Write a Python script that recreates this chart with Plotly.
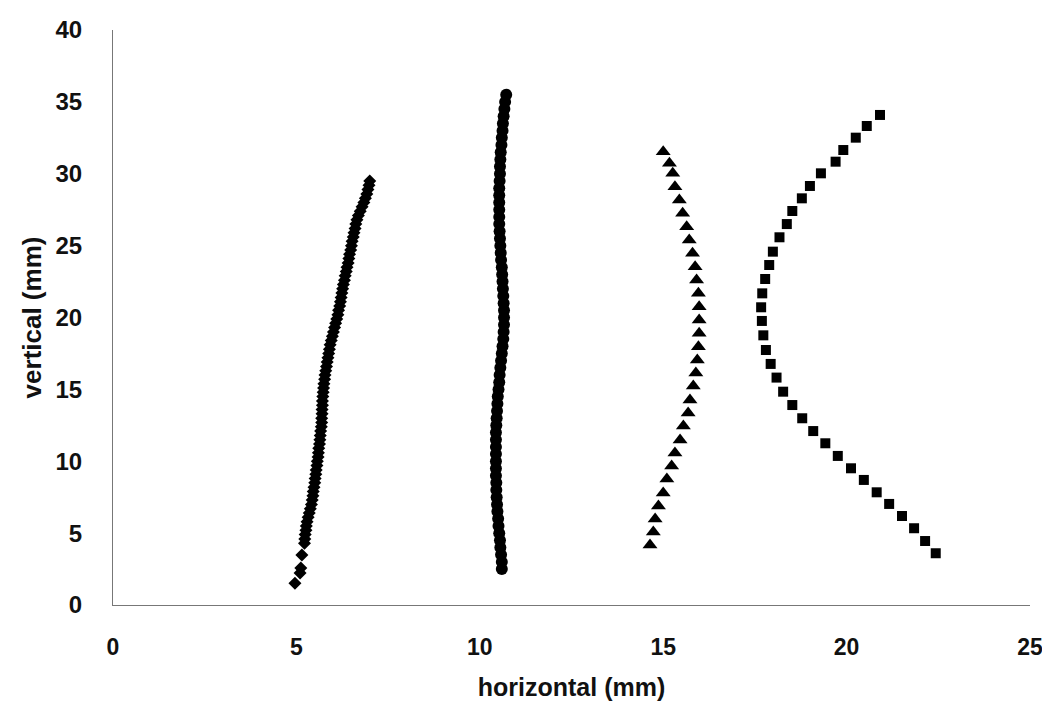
import plotly.graph_objects as go

# Series 1: diamonds
diam_x = [4.96, 5.10, 5.12, 5.15,
          5.22, 5.23, 5.24, 5.26, 5.27, 5.29, 5.32, 5.35, 5.38, 5.41, 5.43, 5.45, 5.46, 5.48, 5.50, 5.51,
          5.53, 5.54, 5.56, 5.57, 5.59, 5.60, 5.61, 5.63, 5.64, 5.65, 5.66, 5.68, 5.69, 5.69, 5.70, 5.70,
          5.71, 5.71, 5.72, 5.73, 5.74, 5.75, 5.77, 5.78, 5.80, 5.82, 5.84, 5.86, 5.88, 5.90, 5.92, 5.95,
          5.98, 6.01, 6.04, 6.07, 6.10, 6.13, 6.15, 6.18, 6.20, 6.22, 6.24, 6.26, 6.28, 6.31, 6.33, 6.36,
          6.38, 6.41, 6.43, 6.45, 6.48, 6.50, 6.52, 6.55, 6.57, 6.60, 6.62, 6.65, 6.69, 6.74, 6.79, 6.84,
          6.88, 6.92, 6.95, 6.98, 7.00]
diam_y = [1.52, 2.23, 2.57, 3.48,
          4.3, 4.6, 4.9, 5.2, 5.5, 5.8, 6.1, 6.4, 6.7, 7.0, 7.3, 7.6, 7.9, 8.2, 8.5, 8.8,
          9.1, 9.4, 9.7, 10.0, 10.3, 10.6, 10.9, 11.2, 11.5, 11.8, 12.1, 12.4, 12.7, 13.0, 13.3, 13.6,
          13.9, 14.2, 14.5, 14.8, 15.1, 15.4, 15.7, 16.0, 16.3, 16.6, 16.9, 17.2, 17.5, 17.8, 18.1, 18.4,
          18.7, 19.0, 19.3, 19.6, 19.9, 20.2, 20.5, 20.8, 21.1, 21.4, 21.7, 22.0, 22.3, 22.6, 22.9, 23.2,
          23.5, 23.8, 24.1, 24.4, 24.7, 25.0, 25.3, 25.6, 25.9, 26.2, 26.5, 26.8, 27.1, 27.4, 27.7, 28.0,
          28.3, 28.6, 28.9, 29.2, 29.5]

# Series 2: circles
circ_x = [10.60, 10.60, 10.58, 10.56, 10.55, 10.53, 10.51, 10.50, 10.48, 10.47, 10.46, 10.45, 10.45,
          10.44, 10.44, 10.44, 10.44, 10.44, 10.44, 10.44, 10.45, 10.46, 10.47, 10.48, 10.49, 10.51,
          10.53, 10.54, 10.56, 10.58, 10.60, 10.62, 10.64, 10.65, 10.66, 10.66, 10.66, 10.65, 10.64,
          10.63, 10.62, 10.61, 10.60, 10.58, 10.57, 10.56, 10.55, 10.54, 10.53, 10.53, 10.53, 10.53,
          10.53, 10.53, 10.54, 10.55, 10.55, 10.56, 10.57, 10.59, 10.60, 10.62, 10.63, 10.65, 10.67,
          10.69, 10.72]
circ_y = [2.5, 3.0, 3.5, 4.0, 4.5, 5.0, 5.5, 6.0, 6.5, 7.0, 7.5, 8.0, 8.5,
          9.0, 9.5, 10.0, 10.5, 11.0, 11.5, 12.0, 12.5, 13.0, 13.5, 14.0, 14.5, 15.0,
          15.5, 16.0, 16.5, 17.0, 17.5, 18.0, 18.5, 19.0, 19.5, 20.0, 20.5, 21.0, 21.5,
          22.0, 22.5, 23.0, 23.5, 24.0, 24.5, 25.0, 25.5, 26.0, 26.5, 27.0, 27.5, 28.0,
          28.5, 29.0, 29.5, 30.0, 30.5, 31.0, 31.5, 32.0, 32.5, 33.0, 33.5, 34.0, 34.5,
          35.0, 35.5]

# Series 3: triangles
tri_x = [15.00, 15.17, 15.26, 15.32, 15.44, 15.53, 15.64, 15.71, 15.80, 15.87, 15.91, 15.96, 15.98,
         15.98, 15.98, 15.96, 15.93, 15.89, 15.82, 15.73, 15.68, 15.55, 15.46, 15.32, 15.23, 15.10,
         15.00, 14.87, 14.78, 14.73, 14.64]
tri_y = [31.53, 30.73, 30.03, 29.10, 28.17, 27.25, 26.32, 25.39, 24.47, 23.53, 22.61, 21.68, 20.75,
         19.83, 18.90, 17.97, 17.04, 16.14, 15.23, 14.26, 13.36, 12.45, 11.48, 10.57, 9.67, 8.77,
         7.79, 6.89, 5.98, 5.08, 4.17]

# Series 4: squares
sq_x = [20.91, 20.55, 20.25, 19.91, 19.70, 19.30, 19.00, 18.78, 18.52, 18.37, 18.17, 17.99, 17.89,
        17.78, 17.70, 17.67, 17.69, 17.73, 17.80, 17.93, 18.09, 18.27, 18.52, 18.79, 19.09, 19.42,
        19.76, 20.12, 20.47, 20.82, 21.16, 21.51, 21.84, 22.14, 22.43]
sq_y = [34.09, 33.32, 32.51, 31.65, 30.84, 30.03, 29.15, 28.29, 27.41, 26.50, 25.58, 24.58, 23.65,
        22.68, 21.68, 20.71, 19.76, 18.76, 17.74, 16.77, 15.82, 14.84, 13.91, 12.99, 12.10, 11.25,
        10.37, 9.51, 8.70, 7.84, 7.03, 6.19, 5.34, 4.45, 3.60]

x_ticks = [0, 5, 10, 15, 20, 25]
y_ticks = [0, 5, 10, 15, 20, 25, 30, 35, 40]

fig = go.Figure()
fig.add_trace(go.Scatter(x=diam_x, y=diam_y, mode="markers",
                         marker=dict(symbol="diamond", size=10, color="black")))
fig.add_trace(go.Scatter(x=circ_x, y=circ_y, mode="markers",
                         marker=dict(symbol="circle", size=12, color="black")))
fig.add_trace(go.Scatter(x=tri_x, y=tri_y, mode="markers",
                         marker=dict(symbol="triangle-up", size=13, color="black")))
fig.add_trace(go.Scatter(x=sq_x, y=sq_y, mode="markers",
                         marker=dict(symbol="square", size=10, color="black")))

font_family = "Liberation Sans, Arial, sans-serif"
fig.update_layout(
    width=1042, height=701,
    margin=dict(l=105, r=20, t=22, b=104),
    plot_bgcolor="white", paper_bgcolor="white",
    showlegend=False,
    font=dict(family=font_family, color="#111111"),
    xaxis=dict(range=[0, 25], tickvals=x_ticks, showgrid=False, zeroline=False,
               showline=True, linecolor="#777777", linewidth=1, ticks="", automargin=False,
               tickfont=dict(size=23, weight="bold"), ticklabelstandoff=21,
               title=dict(text="<b>horizontal (mm)</b>", font=dict(size=25), standoff=19)),
    yaxis=dict(range=[0, 40], tickvals=y_ticks, showgrid=False, zeroline=False,
               showline=True, linecolor="#777777", linewidth=1, ticks="", automargin=False,
               tickfont=dict(size=24, weight="bold"), ticklabelstandoff=25,
               title=dict(text="<b>vertical (mm)</b>", font=dict(size=26), standoff=6)),
)

fig.write_html("out.html")
